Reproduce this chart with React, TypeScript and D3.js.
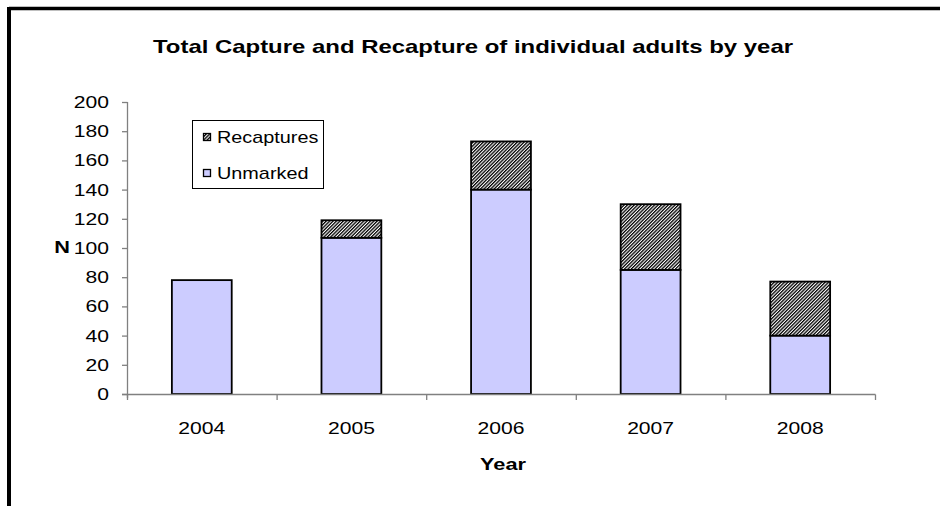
import React from "react";
import * as d3 from "d3";

const years = ["2004", "2005", "2006", "2007", "2008"];
const unmarked = [78, 107, 140, 85, 40];
const recaptures = [0, 12, 33, 45, 37];
const yTicks = [0, 20, 40, 60, 80, 100, 120, 140, 160, 180, 200];
const seriesNames = ["Recaptures", "Unmarked"];

const W = 940;
const H = 506;
const FONT = "'Liberation Sans', Arial, sans-serif";
const SX = 1.28;

function T(props: { x: number; y: number; size: number; anchor?: string; bold?: boolean; sx?: number; children: React.ReactNode }) {
  const { x, y, size, anchor = "start", bold = false, sx = SX, children } = props;
  return (
    <text
      transform={`translate(${x},${y}) scale(${sx},1)`}
      textAnchor={anchor}
      fontSize={size}
      fontWeight={bold ? "bold" : "normal"}
      fill="#000"
    >
      {children}
    </text>
  );
}

export default function App() {
  const x = d3.scaleBand<string>().domain(years).range([127, 875]).paddingInner(0.6).paddingOuter(0.3);
  const y = d3.scaleLinear().domain([0, 200]).range([394, 102]);
  const step = (875 - 127) / years.length;
  const tickXs = d3.range(years.length + 1).map((i) => 127 + i * step);

  return (
    <svg width={W} height={H} style={{ position: "absolute", left: 0, top: 0, background: "#fff" }} fontFamily={FONT}>
      <defs>
        <pattern id="hatch" patternUnits="userSpaceOnUse" width={2.4} height={2.4} patternTransform="rotate(45)">
          <rect width={2.4} height={2.4} fill="#fff" />
          <rect width={1.3} height={2.4} fill="#000" />
        </pattern>
      </defs>
      <rect x={0} y={0} width={W} height={H} fill="#fff" />
      {/* frame */}
      <line x1={9} y1={8.5} x2={W} y2={8.5} stroke="#000" strokeWidth={3.5} />
      <line x1={9} y1={7} x2={9} y2={H} stroke="#000" strokeWidth={4} />

      <T x={473} y={53} size={18} anchor="middle" bold sx={1.33}>
        Total Capture and Recapture of individual adults by year
      </T>

      {/* bars */}
      {years.map((yr, i) => {
        const bx = x(yr)!;
        const bw = x.bandwidth();
        const u = unmarked[i];
        const r = recaptures[i];
        return (
          <g key={yr}>
            <rect x={bx} y={y(u)} width={bw} height={y(0) - y(u)} fill="#ccccff" stroke="#000" strokeWidth={1.8} />
            {r > 0 && (
              <rect x={bx} y={y(u + r)} width={bw} height={y(u) - y(u + r)} fill="url(#hatch)" stroke="#000" strokeWidth={1.8} />
            )}
          </g>
        );
      })}

      {/* y axis */}
      <line x1={127.5} y1={102} x2={127.5} y2={398} stroke="#808080" strokeWidth={1.3} />
      {yTicks.map((t) => (
        <g key={t}>
          <line x1={122} x2={127.5} y1={y(t) + 0.5} y2={y(t) + 0.5} stroke="#808080" strokeWidth={1.3} />
          <T x={109} y={y(t) + 6} size={16.5} anchor="end">
            {t}
          </T>
        </g>
      ))}
      {/* x axis */}
      <line x1={122} x2={875.5} y1={394.5} y2={394.5} stroke="#808080" strokeWidth={1.3} />
      {tickXs.map((tx, i) => (
        <line key={i} x1={tx + 0.5} x2={tx + 0.5} y1={394.5} y2={400} stroke="#808080" strokeWidth={1.3} />
      ))}
      {years.map((yr) => (
        <T key={yr} x={x(yr)! + x.bandwidth() / 2} y={434} size={16.5} anchor="middle">
          {yr}
        </T>
      ))}

      <T x={503} y={470} size={17} anchor="middle" bold>Year</T>
      <T x={62} y={253} size={17} anchor="middle" bold>N</T>

      {/* legend */}
      <rect x={192.5} y={120.5} width={131} height={68} fill="#fff" stroke="#000" strokeWidth={1} />
      {seriesNames.map((s, i) => (
        <g key={s}>
          <rect x={203.5} y={133.5 + i * 36} width={7} height={7} fill={i === 0 ? "url(#hatch)" : "#ccccff"} stroke="#000" strokeWidth={1.3} />
          <T x={217} y={143 + i * 36} size={16} sx={1.24}>{s}</T>
        </g>
      ))}
    </svg>
  );
}
